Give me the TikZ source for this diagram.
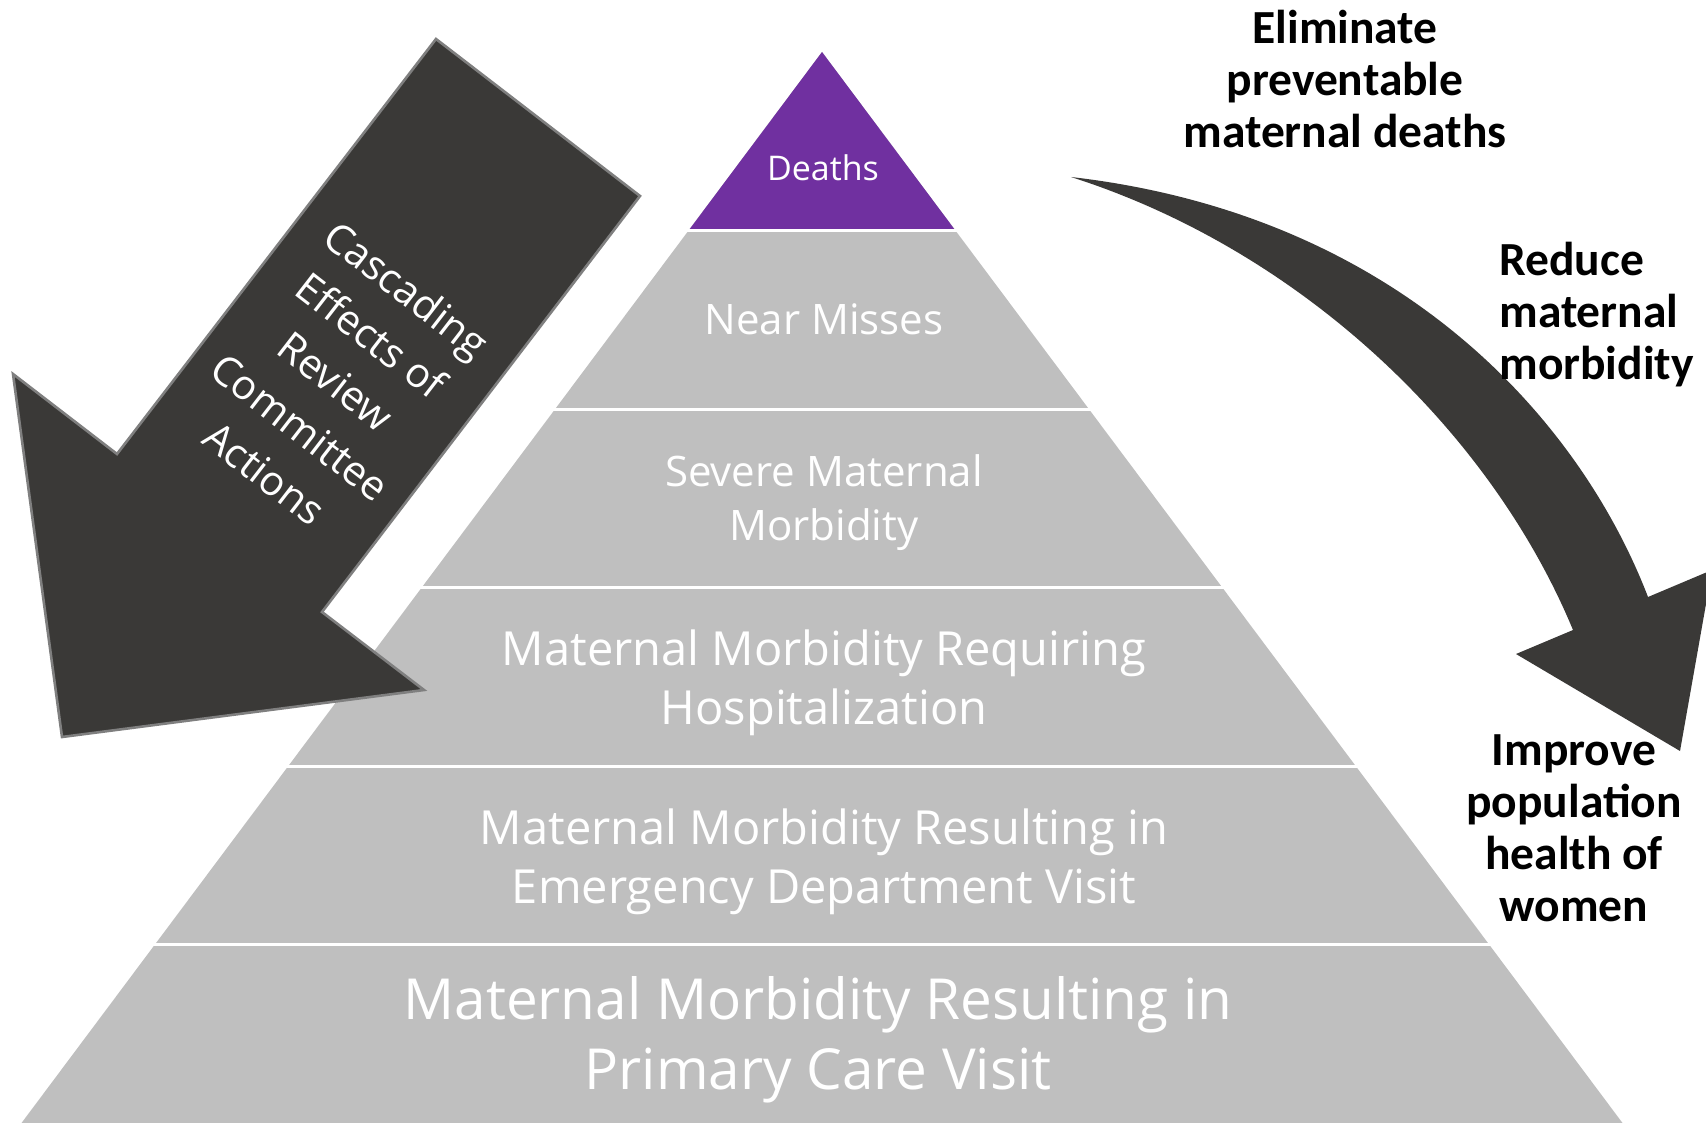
\documentclass[tikz,border=0pt]{standalone}
\usepackage{fontspec}
\setmainfont{Open Sans}
\newfontfamily\goalfont{Carlito}
\usepackage{tikz}
\definecolor{deathpurple}{HTML}{7030A0}
\definecolor{bandgray}{HTML}{BFBFBF}
\definecolor{arrowgray}{HTML}{3A3937}
\definecolor{edgegray}{HTML}{7F7F7F}
\tikzset {
  % labels inside the pyramid bands
  band/.style={text=white, align=center, inner sep=0pt},
  % goals written beside the curved arrow
  goal/.style={font=\goalfont\bfseries\fontsize{23.75}{26}\selectfont, align=center, inner sep=0pt},
  % the two big arrows
  bigarrow/.style={fill=arrowgray},
}

\begin{document}
\begin{tikzpicture}[x=0.5pt, y=-0.5pt]
  \useasboundingbox (0,0) rectangle (1706,1123);

  % pyramid
  \fill[bandgray] (822,52) -- (1622.5,1123) -- (21.5,1123) -- cycle;
  \fill[deathpurple] (822,52) -- (955.4,230.5) -- (688.6,230.5) -- cycle;
  \foreach \y/\w in {230.5/133.4, 409/266.8, 587.5/400.2, 766/533.6, 944.5/667.0}
    \draw[white, line width=1.5pt] (822-\w-4,\y) -- (822+\w+4,\y);

  \node[band, font=\fontsize{17}{20}\selectfont] (deaths) at (823,168) {Deaths};
  \node[band, font=\fontsize{21}{27}\selectfont] (near) at (824,319) {Near Misses};
  \node[band, font=\fontsize{21}{27}\selectfont] (severe) at (824,503) {Severe Maternal\\Morbidity};
  \node[band, font=\fontsize{23.5}{29.5}\selectfont] (hosp) at (824,683) {Maternal Morbidity Requiring\\Hospitalization};
  \node[band, font=\fontsize{23.5}{29.5}\selectfont] (emerg) at (824,862) {Maternal Morbidity Resulting in\\Emergency Department Visit};
  \node[band, font=\fontsize{28.3}{35}\selectfont] (primary) at (818,1040) {Maternal Morbidity Resulting in\\Primary Care Visit};

  % cascading arrow
  \filldraw[bigarrow, draw=edgegray, line width=1.3pt]
    (436,39) -- (640,196) -- (322,612) -- (424,690) -- (62,737) -- (13,374) -- (117,454) -- cycle;
  \node[band, font=\fontsize{20.5}{29}\selectfont, rotate=-37.7] (cascade) at (336,381)
    {Cascading\\Effects of\\Review\\Committee\\Actions};

  % curved arrow
  \fill[bigarrow] (1071,177) .. controls (1400,215) and (1580,420) .. (1648,597)
    -- (1712,570) -- (1680,751) -- (1516,654) -- (1573,630)
    .. controls (1490,430) and (1300,250) .. (1071,177) -- cycle;

  \node[goal] (eliminate) at (1345,79) {Eliminate\\preventable\\maternal deaths};
  \node[goal, anchor=west, align=left] (reduce) at (1499,315) {Reduce\\maternal\\morbidity};
  \node[goal] (improve) at (1574,828) {Improve\\population\\health of\\women};
\end{tikzpicture}
\end{document}
